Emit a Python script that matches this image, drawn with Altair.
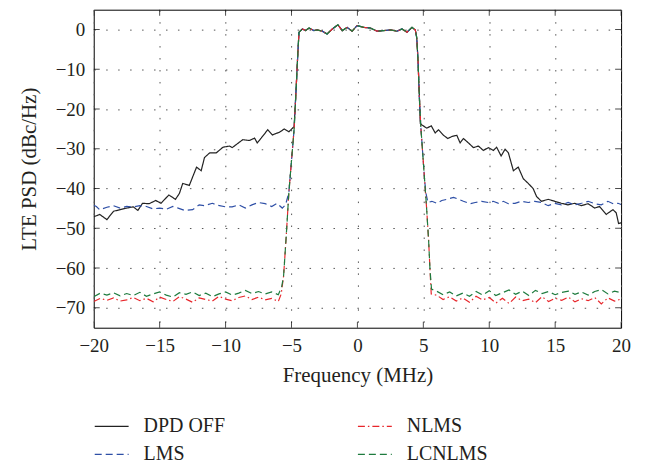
import altair as alt
import pandas as pd

X_TICKS = [-20, -15, -10, -5, 0, 5, 10, 15, 20]
Y_TICKS = [-70, -60, -50, -40, -30, -20, -10, 0]
SERIES = ["DPD OFF", "LMS", "NLMS", "LCNLMS"]
COLORS = ["#222222", "#2E4FA6", "#E8262B", "#1E7B3E"]
DASHES = [[1, 0], [7, 4], [7, 3, 1.5, 3], [7, 4]]

# shared in-band part and edges
BAND_X = [-4.43, -4.18, -3.93, -3.67, -3.3, -3.05, -2.67, -2.3, -1.9, -1.48, -1.15, -0.78,
          -0.4, -0.02, 0.48, 0.98, 1.49, 2.0, 2.5, 3.0, 3.38, 3.76, 4.14, 4.39]
BAND_Y = [-0.7, 0.15, -0.25, 0.4, -0.25, -0.1, -0.4, -1.1, 0.15, 1.2, -0.25, 0.55,
          -0.4, 1.0, 0.55, 0.4, -0.4, -0.25, -0.1, -0.4, 0.15, -0.66, 0.55, -0.1]
EDGE_L_X = [-5.6, -5.4, -5.2, -5.0, -4.8, -4.65, -4.52]
EDGE_L_Y = [-62, -52, -41, -33, -25, -15, -6]
EDGE_R_X = [4.5, 4.6, 4.7, 4.8, 4.95, 5.1, 5.25, 5.4, 5.5]
EDGE_R_Y = [-2, -8, -17, -24, -31, -38, -45, -53, -60]

# floor grids for adaptive schemes
FLOOR_LX = [-20, -19.5, -19, -18.5, -18, -17.5, -17, -16.5, -16, -15.5, -15, -14.5, -14, -13.5,
            -13, -12.5, -12, -11.5, -11, -10.5, -10, -9.5, -9, -8.5, -8, -7.5, -7, -6.5, -6]
FLOOR_RX = [6, 6.5, 7, 7.5, 8, 8.5, 9, 9.5, 10, 10.5, 11, 11.5, 12, 12.5, 13, 13.5, 14,
            14.5, 15, 15.5, 16, 16.5, 17, 17.5, 18, 18.5, 19, 19.5, 20]

NLMS_L = [-68.4, -67.6, -68.1, -67.5, -68.3, -68.0, -67.4, -68.2, -67.6, -68.5, -67.3, -67.9,
          -68.4, -67.2, -67.8, -68.6, -67.5, -67.9, -68.3, -67.1, -67.8, -68.2, -67.4, -67.0,
          -67.9, -67.3, -68.0, -67.6, -68.4]
NLMS_R = [-66.8, -67.9, -67.2, -68.3, -67.5, -68.6, -67.1, -68.0, -67.4, -68.8, -67.6, -68.9,
          -67.3, -68.2, -67.8, -68.7, -67.2, -68.4, -67.6, -68.1, -67.3, -68.5, -67.7, -68.2,
          -67.4, -69.0, -67.5, -68.3, -67.8]
LCN_L = [-67.2, -66.3, -66.8, -66.2, -67.0, -66.4, -66.9, -66.1, -67.1, -66.5, -66.0, -66.8,
         -67.3, -66.2, -66.6, -66.0, -66.9, -66.3, -67.2, -66.5, -66.0, -66.8, -66.3, -65.6,
         -66.4, -65.9, -66.5, -66.0, -66.7]
LCN_R = [-65.8, -66.7, -66.0, -67.0, -66.3, -67.1, -65.9, -66.8, -65.7, -66.9, -66.2, -65.5,
         -66.6, -65.8, -66.9, -65.6, -66.4, -65.9, -66.7, -66.1, -65.8, -66.6, -66.0, -66.8,
         -65.9, -65.4, -66.5, -65.8, -66.2]

# DPD OFF out-of-band
OFF_LX = [-20, -19.55, -19.0, -18.5, -18.0, -17.5, -17.0, -16.65, -16.3, -15.8, -15.3, -14.9,
          -14.3, -13.8, -13.5, -13.25, -12.75, -12.5, -12.2, -11.85, -11.6, -11.2, -10.7,
          -10.2, -9.7, -9.5, -8.7, -8.2, -7.8, -7.6, -7.3, -6.8, -6.45, -5.9, -5.55, -5.2, -4.8]
OFF_LY = [-47.1, -46.5, -47.8, -45.7, -45.3, -44.9, -44.6, -45.5, -43.7, -43.8, -43.0, -43.7,
          -41.6, -42.7, -41.2, -38.7, -39.2, -37.1, -34.6, -35.5, -32.2, -31.0, -31.0,
          -29.6, -29.3, -29.7, -27.7, -27.9, -27.3, -28.5, -27.3, -25.2, -26.5, -25.8, -25.0,
          -25.7, -24.4]
OFF_RX = [4.77, 4.89, 5.27, 5.6, 5.9, 6.15, 6.53, 6.86, 7.16, 7.54, 7.79, 8.04, 8.42, 8.8,
          9.18, 9.55, 9.93, 10.31, 10.56, 10.9, 11.2, 11.45, 11.83, 12.2, 12.58, 12.96, 13.33,
          13.59, 13.96, 14.47, 14.97, 15.47, 15.98, 16.48, 16.99, 17.49, 18.0, 18.37, 18.87,
          19.38, 19.63, 19.81, 20.0]
OFF_RY = [-23.6, -24.0, -24.8, -24.2, -26.0, -25.2, -26.6, -27.4, -26.9, -26.6, -28.5, -27.4,
          -28.5, -29.7, -29.3, -30.4, -29.7, -30.4, -29.6, -31.8, -30.1, -31.0, -35.5, -34.6,
          -37.5, -38.7, -40.0, -42.0, -43.2, -42.7, -43.2, -43.7, -44.1, -43.7, -44.3, -43.8,
          -44.9, -44.5, -46.5, -45.3, -46.1, -48.8, -48.6]

# LMS out-of-band
LMS_LX = [-20, -19.8, -19.55, -19.0, -18.5, -18.0, -17.5, -17.0, -16.5, -16.0, -15.5, -15.0,
          -14.5, -14.0, -13.6, -13.1, -12.5, -12.0, -11.6, -11.0, -10.6, -10.0, -9.5, -9.0,
          -8.5, -8.0, -7.5, -7.0, -6.5, -6.1, -5.7, -5.45]
LMS_LY = [-44.2, -44.5, -45.3, -44.7, -44.3, -44.9, -44.5, -44.6, -44.3, -44.5, -45.1, -44.9,
          -45.2, -44.5, -44.9, -45.5, -45.3, -44.1, -44.3, -43.7, -44.2, -44.6, -44.6, -44.1,
          -44.9, -44.1, -43.5, -43.8, -44.5, -43.7, -44.9, -44.1]
LMS_RX = [5.2, 5.35, 5.65, 6.03, 6.4, 6.78, 7.29, 7.67, 8.04, 8.55, 8.93, 9.43, 9.93, 10.3,
          10.7, 11.07, 11.45, 11.95, 12.45, 12.96, 13.46, 13.96, 14.47, 14.97, 15.47, 15.98,
          16.48, 17.0, 17.5, 18.0, 18.5, 19.0, 19.4, 19.77, 20.0]
LMS_RY = [-41.2, -43.5, -43.2, -43.7, -43.0, -42.7, -42.2, -42.7, -43.2, -43.8, -43.5, -43.2,
          -43.5, -43.2, -43.7, -43.2, -43.8, -43.7, -43.2, -43.5, -43.2, -43.5, -44.3, -43.7,
          -44.1, -43.5, -44.1, -43.7, -43.2, -43.8, -44.1, -43.2, -43.8, -43.7, -44.0]


def build(name, segments):
    rows = []
    for xs, ys in segments:
        for x, y in zip(xs, ys):
            rows.append({"f": x, "p": y, "s": name})
    return rows


rows_a = []
rows_a += build("DPD OFF", [(OFF_LX, OFF_LY), (EDGE_L_X[5:], EDGE_L_Y[5:]), (BAND_X, BAND_Y),
                            (EDGE_R_X[:3], EDGE_R_Y[:3]), (OFF_RX, OFF_RY)])
rows_a += build("LMS", [(LMS_LX, LMS_LY), (EDGE_L_X[2:], EDGE_L_Y[2:]), (BAND_X, BAND_Y),
                        (EDGE_R_X[:6], EDGE_R_Y[:6]), (LMS_RX, LMS_RY)])
rows_b = []
rows_b += build("NLMS", [(FLOOR_LX, NLMS_L), ([-5.78], [-66.5]), (EDGE_L_X, EDGE_L_Y),
                         (BAND_X, BAND_Y), (EDGE_R_X, EDGE_R_Y), ([5.6], [-66.5]),
                         (FLOOR_RX, NLMS_R)])
rows_b += build("LCNLMS", [(FLOOR_LX, LCN_L), ([-5.75], [-64.8]), (EDGE_L_X, EDGE_L_Y),
                           (BAND_X, BAND_Y), (EDGE_R_X, EDGE_R_Y), ([5.62], [-65.3]),
                           (FLOOR_RX, LCN_R)])
df_a = pd.DataFrame(rows_a)
df_b = pd.DataFrame(rows_b)

FONT = "Liberation Serif"
TXT = "#231f20"
xs = alt.Scale(domain=[-20, 20], nice=False, zero=False, padding=0)
ys = alt.Scale(domain=[-75, 5], nice=False, zero=False, padding=0)
x_enc = alt.X("f:Q", scale=xs, axis=alt.Axis(
    values=X_TICKS, title="Frequency (MHz)", format="d", titlePadding=9,
    labelFlush=False, labelOverlap=False,
    labelFont=FONT, titleFont=FONT, labelFontSize=19, titleFontSize=21))
y_enc = alt.Y("p:Q", scale=ys, axis=alt.Axis(
    values=Y_TICKS, title="LTE PSD (dBc/Hz)", format="d", titlePadding=16,
    labelFlush=False, labelOverlap=False,
    labelFont=FONT, titleFont=FONT, labelFontSize=19, titleFontSize=21))


def legend(lx):
    return alt.Legend(title=None, orient="none", legendX=lx, legendY=400,
                      direction="vertical")


def line_layer(df, names, cols, dashes, lx):
    lg = legend(lx)
    return alt.Chart(df).mark_line(strokeWidth=1.2, clip=True).encode(
        x=x_enc, y=y_enc,
        color=alt.Color("s:N", scale=alt.Scale(domain=names, range=cols), legend=lg),
        strokeDash=alt.StrokeDash("s:N", scale=alt.Scale(domain=names, range=dashes),
                                  legend=lg),
    )


layer_a = line_layer(df_a, SERIES[:2], COLORS[:2], DASHES[:2], 0)
layer_b = line_layer(df_b, SERIES[2:], COLORS[2:], DASHES[2:], 264)

xt = pd.DataFrame({"f": X_TICKS})
yt = pd.DataFrame({"p": Y_TICKS})
tick_bottom = alt.Chart(xt).mark_tick(orient="vertical", size=12, clip=True, color="black",
                                      thickness=1).encode(x=x_enc, y=alt.datum(-75))
tick_top = alt.Chart(xt).mark_tick(orient="vertical", size=12, clip=True, color="black",
                                   thickness=1).encode(x=x_enc, y=alt.datum(5))
tick_left = alt.Chart(yt).mark_tick(orient="horizontal", size=12, clip=True, color="black",
                                    thickness=1).encode(y=y_enc, x=alt.datum(-20))
tick_right = alt.Chart(yt).mark_tick(orient="horizontal", size=12, clip=True, color="black",
                                     thickness=1).encode(y=y_enc, x=alt.datum(20))

chart = alt.layer(tick_bottom, tick_top, tick_left, tick_right, layer_a, layer_b).resolve_scale(
    color="independent", strokeDash="independent"
).properties(
    width=529, height=319,
    autosize=alt.AutoSizeParams(type="none"),
    padding={"left": 86, "top": 1, "right": 30, "bottom": 136},
).configure(
    font=FONT
).configure_axis(
    labelFont=FONT, titleFont=FONT,
    labelFontSize=19, titleFontSize=21, labelColor=TXT, titleColor=TXT,
    titleFontWeight="normal", grid=True, gridDash=[1.5, 10.5], gridColor="#555555",
    gridOpacity=1, gridWidth=1, ticks=False, domain=False, labelPadding=9,
).configure_view(
    stroke="black", strokeWidth=1
).configure_legend(
    labelFont=FONT, labelFontSize=20, labelColor=TXT,
    symbolType="stroke", symbolSize=1156, symbolStrokeWidth=1.2, labelOffset=14,
    rowPadding=-8, padding=0, symbolOpacity=1,
)

chart.save("out.html", embed_options={"renderer": "svg", "actions": False})
